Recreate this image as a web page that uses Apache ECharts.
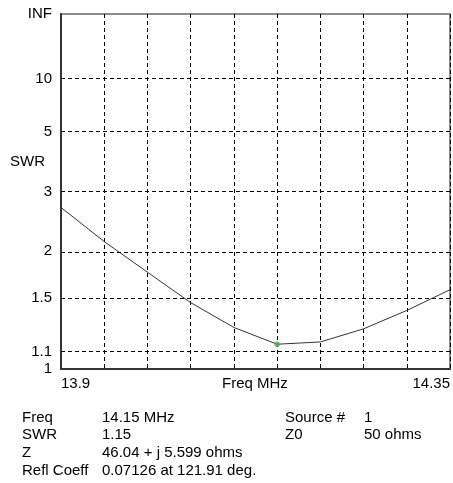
<!DOCTYPE html>
<html><head><meta charset="utf-8">
<script src="https://cdn.jsdelivr.net/npm/echarts@6/dist/echarts.min.js"></script>
<style>html,body{margin:0;padding:0;background:#fff}#c{width:453px;height:483px}</style>
</head><body><div id="c"></div>
<script>
const freqs = [13.90, 13.95, 14.00, 14.05, 14.10, 14.15, 14.20, 14.25, 14.30, 14.35];
const swrValues = [2.67, 2.12, 1.75, 1.46, 1.265, 1.15, 1.165, 1.255, 1.395, 1.575];
const ySwrTicks = [1, 1.1, 1.5, 2, 3, 5, 10, Infinity];
const yTickLabels = ['1', '1.1', '1.5', '2', '3', '5', '10', 'INF'];
const xTickLabels = ['13.9', '14.35'];
const markerFreq = 14.15, markerSwr = 1.15;
const infoLeft = [['Freq', '14.15 MHz'], ['SWR', '1.15'], ['Z', '46.04 + j 5.599 ohms'], ['Refl Coeff', '0.07126 at 121.91 deg.']];
const infoRight = [['Source #', '1'], ['Z0', '50 ohms']];

function gamma(s) { return s === Infinity ? 1 : (s - 1) / (s + 1); }
const yTickVals = ySwrTicks.map(gamma);
const FONT = 'Liberation Sans, Arial, sans-serif';
const FS = 15;

const chart = echarts.init(document.getElementById('c'), null, {renderer: 'canvas'});
const graphics = [];
const txt = (x, y, s) => graphics.push({type: 'text', left: x, top: y, style: {text: s, font: FS + 'px ' + FONT, fill: '#000'}});
txt(10, 154, 'SWR');
txt(222, 376, 'Freq MHz');
infoLeft.forEach((r, i) => { txt(22, 410 + i * 17.8, r[0]); txt(102, 410 + i * 17.8, r[1]); });
infoRight.forEach((r, i) => { txt(285, 410 + i * 17.8, r[0]); txt(364, 410 + i * 17.8, r[1]); });

chart.setOption({
  animation: false,
  backgroundColor: '#fff',
  grid: {left: 61, top: 14, width: 389, height: 355, show: true, borderColor: '#666', borderWidth: 1.5, backgroundColor: 'transparent'},
  xAxis: {
    type: 'value', min: 13.9, max: 14.35, interval: 0.05,
    axisLine: {show: true, lineStyle: {color: '#333', width: 2}},
    axisTick: {show: false},
    axisLabel: {
      show: true, color: '#000', fontFamily: FONT, fontSize: FS, margin: 7,
      showMinLabel: true, showMaxLabel: true,
      alignMinLabel: 'left', alignMaxLabel: 'right',
      formatter: v => { const s = String(+v.toFixed(2)); return xTickLabels.includes(s) ? s : ''; }
    },
    splitLine: {show: true, lineStyle: {color: '#000', type: [4, 3], width: 1}}
  },
  yAxis: {
    type: 'value', min: 0, max: 1,
    axisLine: {show: true, lineStyle: {color: '#333', width: 2}},
    axisTick: {show: false},
    axisLabel: {
      show: true, color: '#000', fontFamily: FONT, fontSize: FS, margin: 9,
      customValues: yTickVals,
      formatter: v => { let best = 0; yTickVals.forEach((t, i) => { if (Math.abs(t - v) < Math.abs(yTickVals[best] - v)) best = i; }); return yTickLabels[best]; }
    },
    splitLine: {show: false}
  },
  graphic: graphics,
  series: [
    {
      type: 'line', data: freqs.map((f, i) => [f, gamma(swrValues[i])]),
      symbol: 'none', lineStyle: {color: '#333', width: 1}, silent: true, z: 3,
      markLine: {
        silent: true, symbol: 'none', label: {show: false},
        lineStyle: {color: '#000', type: [4, 3], width: 1},
        data: yTickVals.slice(1, -1).map(v => ({yAxis: v}))
      }
    },
    {
      type: 'scatter', data: [[markerFreq, gamma(markerSwr)]], symbolSize: 5,
      itemStyle: {color: '#33cc33', borderColor: '#aa55aa', borderWidth: 0.5}, z: 5
    }
  ]
});
</script></body></html>
